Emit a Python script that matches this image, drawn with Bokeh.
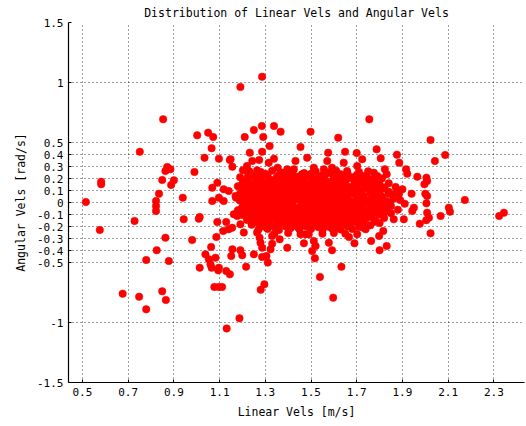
from bokeh.plotting import figure
from bokeh.models import FixedTicker, PrintfTickFormatter, ColumnDataSource, Range1d
from bokeh.embed import file_html
from bokeh.resources import INLINE

title_text = "Distribution of Linear Vels and Angular Vels"
x_label = "Linear Vels [m/s]"
y_label = "Angular Vels [rad/s]"

x_ticks = [0.5, 0.7, 0.9, 1.1, 1.3, 1.5, 1.7, 1.9, 2.1, 2.3]
y_ticks = [-1.5, -1, -0.5, -0.4, -0.3, -0.2, -0.1, 0, 0.1, 0.2, 0.3, 0.4, 0.5, 1, 1.5]

# (linear vel, angular vel) pairs
left_points = [
    (0.515, 0.004), (0.582, 0.173), (0.582, 0.152), (0.576, -0.229), (0.676, -0.76),
    (0.728, -0.154), (0.748, -0.785), (0.751, 0.423), (0.779, -0.479), (0.779, -0.89),
    (0.822, 0.0125), (0.822, -0.03), (0.822, -0.07), (0.825, -0.398), (0.835, 0.073),
    (0.849, 0.1875), (0.849, -0.74), (0.853, 0.693), (0.863, 0.262), (0.871, 0.296),
    (0.885, 0.277), (0.863, -0.293), (0.865, -0.8125), (0.878, -0.488), (0.888, 0.146),
    (0.9, 0.185), (0.939, 0.04), (0.943, -0.14), (0.98, -0.313), (0.99, 0.254),
    (1.002, 0.56), (1.009, -0.135), (1.013, -0.121), (1.013, -0.543), (1.034, 0.373),
    (1.038, -0.432), (1.05, 0.582), (1.053, -0.473), (1.06, -0.515), (1.063, -0.37),
    (1.065, 0.452), (1.065, -0.543), (1.068, 0.123), (1.068, 0.0125), (1.072, 0.546),
    (1.077, -0.704), (1.082, -0.46), (1.086, -0.2875), (1.09, 0.165), (1.09, -0.1625),
    (1.094, -0.565), (1.096, -0.704), (1.097, 0.365), (1.097, 0.04), (1.097, -0.543),
    (1.111, -0.704), (1.116, -0.2375), (1.118, 0.11), (1.118, 0.0125), (1.129, -0.1625),
    (1.129, -0.571), (1.131, -1.05), (1.14, 0.096), (1.14, -0.223), (1.145, 0.354),
    (1.145, -0.598), (1.148, 0.36), (1.151, -0.446), (1.155, -0.21), (1.156, 0.298),
    (1.156, -0.39), (1.162, -0.098), (1.172, 0.04), (1.177, -0.1125), (1.187, -0.965),
    (1.191, 0.963), (1.191, -0.182), (1.191, -0.398), (1.199, -0.043), (1.199, -0.44),
]

middle_points = [
    (1.202, 0.268), (1.203, 0.165), (1.206, -0.25), (1.21, 0.546), (1.216, -0.535),
    (1.22, 0.304), (1.225, 0.229), (1.232, 0.415), (1.243, 0.346), (1.25, 0.604),
    (1.25, -0.432), (1.264, 0.268), (1.264, -0.25), (1.273, 0.354), (1.275, -0.293),
    (1.279, -0.335), (1.28, -0.727), (1.285, 0.6375), (1.286, 1.048), (1.286, 0.423),
    (1.286, -0.377), (1.286, -0.454), (1.291, 0.546), (1.296, -0.682), (1.305, -0.446),
    (1.311, -0.5), (1.315, 0.332), (1.319, 0.47), (1.323, -0.39), (1.33, -0.343),
    (1.33, -0.279), (1.338, 0.6375), (1.338, 0.365), (1.354, 0.29), (1.363, -0.307),
    (1.367, 0.59), (1.396, -0.377), (1.396, 0.277), (1.425, 0.277), (1.432, 0.346),
    (1.454, 0.4625), (1.454, -0.265), (1.469, -0.34), (1.476, -0.265), (1.483, 0.373),
    (1.498, 0.59), (1.505, -0.404), (1.512, 0.29), (1.512, -0.32), (1.517, -0.465),
    (1.52, -0.3625), (1.539, -0.62), (1.556, 0.277), (1.571, 0.346), (1.575, 0.415),
    (1.578, -0.335), (1.592, 0.29), (1.592, -0.398), (1.597, -0.793), (1.619, 0.54),
    (1.633, -0.535), (1.643, 0.332), (1.649, 0.423), (1.658, 0.2625), (1.666, -0.2875),
]

right_points = [
    (1.69, -0.34), (1.7, 0.4125), (1.702, 0.304), (1.702, -0.265), (1.724, 0.36),
    (1.739, -0.223), (1.755, 0.693), (1.763, -0.32), (1.775, 0.248), (1.787, 0.443),
    (1.79, 0.221), (1.798, -0.279), (1.8, -0.398), (1.805, 0.368), (1.816, -0.2375),
    (1.823, 0.277), (1.831, 0.235), (1.831, -0.3625), (1.862, -0.14), (1.876, 0.398),
    (1.877, 0.096), (1.885, 0.073), (1.886, 0.332), (1.906, -0.14), (1.916, 0.277),
    (1.921, 0.24), (1.94, 0.073), (1.943, -0.07), (1.95, -0.043), (1.965, 0.215),
    (1.976, -0.177), (1.996, 0.152), (2.0, 0.073), (2.005, 0.207), (2.005, -0.007),
    (2.004, -0.148), (2.008, 0.179), (2.008, 0.054), (2.008, -0.085), (2.016, -0.127),
    (2.023, 0.521), (2.023, -0.257), (2.042, 0.346), (2.067, -0.1125), (2.087, 0.396),
    (2.103, -0.043), (2.108, -0.077), (2.173, 0.021), (2.323, -0.1125), (2.344, -0.085),
]

core_upper = [
    (1.23, 0.26), (1.28, 0.255), (1.33, 0.265), (1.37, 0.25), (1.42, 0.26), (1.47, 0.245),
    (1.52, 0.26), (1.57, 0.25), (1.61, 0.265), (1.66, 0.24), (1.71, 0.255), (1.75, 0.26),
    (1.19, 0.21), (1.24, 0.22), (1.27, 0.215), (1.31, 0.225), (1.35, 0.21), (1.39, 0.22),
    (1.44, 0.215), (1.48, 0.225), (1.53, 0.21), (1.56, 0.22), (1.60, 0.215), (1.64, 0.225),
    (1.68, 0.21), (1.73, 0.22), (1.77, 0.19), (1.81, 0.20),
    (1.21, 0.175), (1.26, 0.18), (1.29, 0.17), (1.33, 0.185), (1.36, 0.175), (1.40, 0.18),
    (1.43, 0.17), (1.46, 0.185), (1.50, 0.175), (1.54, 0.18), (1.58, 0.17), (1.62, 0.185),
    (1.65, 0.175), (1.69, 0.18), (1.72, 0.17), (1.76, 0.155), (1.84, 0.16),
    (1.18, 0.135), (1.22, 0.14), (1.25, 0.13), (1.28, 0.145), (1.31, 0.135), (1.35, 0.14),
    (1.38, 0.13), (1.41, 0.145), (1.45, 0.135), (1.48, 0.14), (1.52, 0.13), (1.55, 0.145),
    (1.59, 0.135), (1.63, 0.14), (1.67, 0.13), (1.70, 0.145), (1.74, 0.135), (1.78, 0.14),
    (1.82, 0.125), (1.87, 0.13),
    (1.20, 0.095), (1.24, 0.1), (1.27, 0.09), (1.30, 0.105), (1.33, 0.095), (1.37, 0.1),
    (1.40, 0.09), (1.43, 0.105), (1.47, 0.095), (1.50, 0.1), (1.53, 0.09), (1.57, 0.105),
    (1.60, 0.095), (1.64, 0.1), (1.68, 0.09), (1.72, 0.105), (1.76, 0.095), (1.80, 0.1),
    (1.84, 0.09), (1.90, 0.11),
    (1.17, 0.055), (1.21, 0.06), (1.25, 0.05), (1.29, 0.065), (1.32, 0.055), (1.35, 0.06),
    (1.39, 0.05), (1.42, 0.065), (1.45, 0.055), (1.49, 0.06), (1.52, 0.05), (1.55, 0.065),
    (1.59, 0.055), (1.62, 0.06), (1.66, 0.05), (1.70, 0.065), (1.73, 0.055), (1.77, 0.06),
    (1.81, 0.05), (1.86, 0.065),
    (1.19, 0.015), (1.23, 0.02), (1.26, 0.01), (1.30, 0.025), (1.34, 0.015), (1.37, 0.02),
    (1.41, 0.01), (1.44, 0.025), (1.47, 0.015), (1.51, 0.02), (1.54, 0.01), (1.57, 0.025),
    (1.61, 0.015), (1.64, 0.02), (1.68, 0.01), (1.71, 0.025), (1.75, 0.015), (1.79, 0.02),
    (1.83, 0.01), (1.89, 0.02),
]

core_lower = [
    (1.21, -0.025), (1.25, -0.02), (1.28, -0.03), (1.32, -0.015), (1.35, -0.025), (1.39, -0.02),
    (1.42, -0.03), (1.46, -0.015), (1.49, -0.025), (1.53, -0.02), (1.56, -0.03), (1.59, -0.015),
    (1.63, -0.025), (1.66, -0.02), (1.70, -0.03), (1.73, -0.015), (1.77, -0.025), (1.81, -0.02),
    (1.85, -0.03), (1.91, -0.01),
    (1.18, -0.065), (1.22, -0.06), (1.26, -0.07), (1.29, -0.055), (1.33, -0.065), (1.36, -0.06),
    (1.40, -0.07), (1.43, -0.055), (1.47, -0.065), (1.50, -0.06), (1.54, -0.07), (1.57, -0.055),
    (1.60, -0.065), (1.64, -0.06), (1.67, -0.07), (1.71, -0.055), (1.75, -0.065), (1.79, -0.06),
    (1.83, -0.07), (1.88, -0.06),
    (1.20, -0.105), (1.24, -0.1), (1.27, -0.11), (1.31, -0.095), (1.34, -0.105), (1.38, -0.1),
    (1.41, -0.11), (1.45, -0.095), (1.48, -0.105), (1.51, -0.1), (1.55, -0.11), (1.58, -0.095),
    (1.62, -0.105), (1.65, -0.1), (1.69, -0.11), (1.72, -0.095), (1.76, -0.105), (1.80, -0.1),
    (1.85, -0.09),
    (1.22, -0.145), (1.26, -0.14), (1.29, -0.15), (1.33, -0.135), (1.36, -0.145), (1.40, -0.14),
    (1.43, -0.15), (1.47, -0.135), (1.50, -0.145), (1.53, -0.14), (1.57, -0.15), (1.60, -0.135),
    (1.64, -0.145), (1.67, -0.14), (1.71, -0.15), (1.74, -0.135), (1.78, -0.145), (1.82, -0.13),
    (1.24, -0.185), (1.28, -0.18), (1.32, -0.19), (1.35, -0.175), (1.39, -0.185), (1.42, -0.18),
    (1.46, -0.19), (1.49, -0.175), (1.53, -0.185), (1.56, -0.18), (1.60, -0.19), (1.63, -0.175),
    (1.67, -0.185), (1.71, -0.18), (1.76, -0.19), (1.80, -0.17),
    (1.27, -0.225), (1.31, -0.22), (1.36, -0.23), (1.41, -0.215), (1.45, -0.225), (1.50, -0.22),
    (1.55, -0.23), (1.59, -0.215), (1.63, -0.225), (1.68, -0.22), (1.73, -0.21),
    (1.34, -0.26), (1.40, -0.255), (1.49, -0.265), (1.55, -0.26), (1.60, -0.255), (1.65, -0.26),
]

core_dense = [
    (1.26, 0.235), (1.30, 0.24), (1.36, 0.23), (1.41, 0.24), (1.46, 0.235), (1.50, 0.24),
    (1.55, 0.23), (1.59, 0.24), (1.63, 0.235), (1.70, 0.23),
    (1.22, 0.195), (1.28, 0.2), (1.32, 0.19), (1.38, 0.2), (1.42, 0.195), (1.47, 0.2),
    (1.51, 0.19), (1.55, 0.2), (1.60, 0.195), (1.66, 0.2), (1.71, 0.19), (1.75, 0.2), (1.79, 0.195),
    (1.20, 0.155), (1.24, 0.16), (1.30, 0.15), (1.34, 0.16), (1.37, 0.155), (1.42, 0.16),
    (1.47, 0.15), (1.50, 0.16), (1.53, 0.155), (1.57, 0.16), (1.61, 0.15), (1.65, 0.16),
    (1.69, 0.155), (1.73, 0.16), (1.80, 0.15),
    (1.22, 0.115), (1.26, 0.12), (1.29, 0.11), (1.32, 0.12), (1.36, 0.115), (1.39, 0.12),
    (1.43, 0.11), (1.46, 0.12), (1.50, 0.115), (1.54, 0.12), (1.58, 0.11), (1.62, 0.12),
    (1.66, 0.115), (1.70, 0.12), (1.75, 0.11), (1.78, 0.12), (1.82, 0.115),
    (1.19, 0.075), (1.23, 0.08), (1.27, 0.07), (1.31, 0.08), (1.34, 0.075), (1.38, 0.08),
    (1.41, 0.07), (1.44, 0.08), (1.48, 0.075), (1.51, 0.08), (1.55, 0.07), (1.58, 0.08),
    (1.61, 0.075), (1.65, 0.08), (1.69, 0.07), (1.72, 0.08), (1.76, 0.075), (1.79, 0.08), (1.84, 0.07),
    (1.21, 0.035), (1.24, 0.04), (1.28, 0.03), (1.32, 0.04), (1.36, 0.035), (1.40, 0.04),
    (1.43, 0.03), (1.46, 0.04), (1.50, 0.035), (1.53, 0.04), (1.56, 0.03), (1.60, 0.04),
    (1.63, 0.035), (1.66, 0.04), (1.70, 0.03), (1.73, 0.04), (1.77, 0.035), (1.81, 0.04), (1.86, 0.03),
    (1.22, -0.005), (1.26, 0.0), (1.29, -0.01), (1.33, 0.0), (1.36, -0.005), (1.39, 0.0),
    (1.42, -0.01), (1.46, 0.0), (1.49, -0.005), (1.52, 0.0), (1.56, -0.01), (1.59, 0.0),
    (1.62, -0.005), (1.65, 0.0), (1.69, -0.01), (1.72, 0.0), (1.76, -0.005), (1.80, 0.0), (1.84, -0.01),
    (1.20, -0.045), (1.24, -0.04), (1.27, -0.05), (1.31, -0.04), (1.34, -0.045), (1.38, -0.04),
    (1.41, -0.05), (1.45, -0.04), (1.48, -0.045), (1.51, -0.04), (1.55, -0.05), (1.58, -0.04),
    (1.62, -0.045), (1.65, -0.04), (1.69, -0.05), (1.72, -0.04), (1.76, -0.045), (1.80, -0.04), (1.83, -0.05),
    (1.22, -0.085), (1.26, -0.08), (1.29, -0.09), (1.33, -0.08), (1.36, -0.085), (1.40, -0.08),
    (1.43, -0.09), (1.46, -0.08), (1.50, -0.085), (1.53, -0.08), (1.56, -0.09), (1.60, -0.08),
    (1.63, -0.085), (1.67, -0.08), (1.70, -0.09), (1.74, -0.08), (1.78, -0.085), (1.82, -0.08),
    (1.24, -0.125), (1.28, -0.12), (1.31, -0.13), (1.35, -0.12), (1.38, -0.125), (1.42, -0.12),
    (1.45, -0.13), (1.49, -0.12), (1.52, -0.125), (1.55, -0.12), (1.59, -0.13), (1.62, -0.12),
    (1.66, -0.125), (1.69, -0.12), (1.73, -0.13), (1.76, -0.12),
    (1.26, -0.165), (1.30, -0.16), (1.37, -0.17), (1.41, -0.16), (1.44, -0.165), (1.48, -0.16),
    (1.51, -0.17), (1.55, -0.16), (1.58, -0.165), (1.62, -0.16), (1.65, -0.17), (1.69, -0.16),
    (1.73, -0.165), (1.78, -0.16),
    (1.29, -0.2), (1.34, -0.205), (1.39, -0.2), (1.44, -0.205), (1.48, -0.2), (1.53, -0.205),
    (1.57, -0.2), (1.61, -0.205), (1.66, -0.2), (1.71, -0.205),
]

all_points = left_points + middle_points + right_points + core_upper + core_lower + core_dense
lin_vels = [pt[0] for pt in all_points]
ang_vels = [pt[1] for pt in all_points]

source = ColumnDataSource(data=dict(lin=lin_vels, ang=ang_vels))

FONT = "DejaVu Sans Mono"

p = figure(
    width=526, height=426,
    x_range=Range1d(0.439, 2.434), y_range=Range1d(-1.5, 1.5),
    output_backend="svg", toolbar_location=None,
    min_border_left=68, min_border_right=2, min_border_top=22, min_border_bottom=44,
    title=title_text,
)

p.background_fill_color = "white"
p.border_fill_color = "white"
p.outline_line_color = None

p.title.text_font = FONT
p.title.text_font_size = "11.5px"
p.title.text_font_style = "normal"
p.title.align = "center"
p.title.standoff = 6
p.title.text_color = "black"

p.scatter("lin", "ang", source=source, marker="circle", size=7.5,
          fill_color="#ff0000", line_color="#ff0000", line_width=0.5)

for ax, ticks in ((p.xaxis[0], x_ticks), (p.yaxis[0], y_ticks)):
    ax.ticker = FixedTicker(ticks=ticks)
    ax.formatter = PrintfTickFormatter(format="%g")
    ax.axis_line_color = "black"
    ax.axis_line_width = 1.2
    ax.major_tick_in = 3
    ax.major_tick_out = 0
    ax.major_tick_line_color = "black"
    ax.minor_tick_line_color = None
    ax.major_label_text_font = FONT
    ax.major_label_text_font_size = "11px"
    ax.major_label_text_color = "black"
    ax.major_label_standoff = 5
    ax.axis_label_text_font = FONT
    ax.axis_label_text_font_size = "11.5px"
    ax.axis_label_text_font_style = "normal"
    ax.axis_label_text_color = "black"
    ax.axis_label_standoff = 6

p.xaxis.axis_label = x_label
p.yaxis.axis_label = y_label

p.xgrid.ticker = FixedTicker(ticks=x_ticks)
p.ygrid.ticker = FixedTicker(ticks=y_ticks)
for g in (p.xgrid[0], p.ygrid[0]):
    g.grid_line_color = "black"
    g.grid_line_alpha = 0.75
    g.grid_line_dash = "1 3"
    g.grid_line_width = 1

open("out.html", "w").write(file_html(p, INLINE))
